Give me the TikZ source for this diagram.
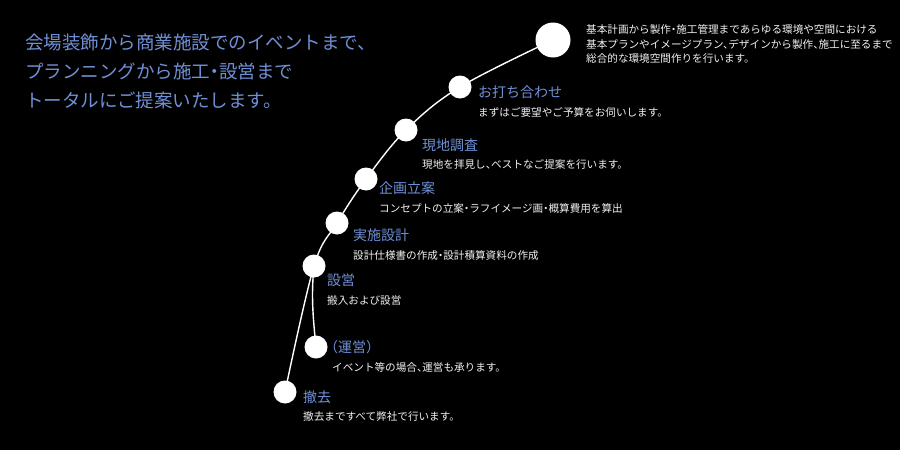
\documentclass[tikz,border=0pt]{standalone}
\usepackage{fontspec}
\setmainfont{Noto Sans CJK JP}[RawFeature={+halt}]
\usepackage{xcolor}
\usepackage{tikz}
\usetikzlibrary{backgrounds}
\definecolor{Paper}{HTML}{000000}
\definecolor{Lead}{HTML}{7090D6}
\definecolor{Note}{HTML}{F2F2F2}

\begin{document}
\begin{tikzpicture}[
  x=1pt, y=-1pt,
  dot/.style={circle, fill=white, inner sep=0pt, minimum size=23pt},
  head/.style={anchor=west, inner sep=0pt, text=Lead, font=\fontsize{14}{16}\selectfont},
  desc/.style={anchor=west, inner sep=0pt, text=Note, align=left, font=\fontsize{10.6}{14.2}\selectfont},
  route/.style={draw=white, line width=1.4pt}
]
\useasboundingbox (0,0) rectangle (900,450);

\node[dot, minimum size=35pt] (start) at (553,40) {};
\node[dot] (meet) at (460,87) {};
\node[dot] (survey) at (406,130) {};
\node[dot] (plan) at (366,179) {};
\node[dot] (design) at (337,223) {};
\node[dot] (setup) at (314,266) {};
\node[dot] (operate) at (316,347) {};
\node[dot] (remove) at (285,392) {};

\begin{scope}[on background layer]
\fill[Paper] (0,0) rectangle (900,450);
\draw[route] plot[smooth, tension=0.6] coordinates {(start.center) (meet.center) (survey.center) (plan.center) (design.center) (setup.center) (remove.center)};
\draw[route] (setup.center) .. controls +(-3,30) and +(-3,-30) .. (operate.center);
\end{scope}

\node[anchor=west, inner sep=0pt, text=Lead, align=left, font=\fontsize{18.5}{29}\selectfont] (lead) at (25,71) {会場装飾から商業施設でのイベントまで、\\プランニングから施工・設営まで\\トータルにご提案いたします。};

\node[desc, font=\fontsize{10.6}{14.2}\selectfont] (intro) at (586,44) {基本計画から製作・施工管理まであらゆる環境や空間における\\基本プランやイメージプラン、デザインから製作、施工に至るまで\\総合的な環境空間作りを行います。};

\node[head] (meet-h) at (478,92) {お打ち合わせ};
\node[desc] (meet-d) at (478,112) {まずはご要望やご予算をお伺いします。};
\node[head] (survey-h) at (422,145) {現地調査};
\node[desc] (survey-d) at (422,164) {現地を拝見し、ベストなご提案を行います。};
\node[head] (plan-h) at (379,188) {企画立案};
\node[desc] (plan-d) at (379,208) {コンセプトの立案・ラフイメージ画・概算費用を算出};
\node[head] (design-h) at (353,235) {実施設計};
\node[desc] (design-d) at (353,255) {設計仕様書の作成・設計積算資料の作成};
\node[head] (setup-h) at (327,280) {設営};
\node[desc] (setup-d) at (327,300) {搬入および設営};
\node[head] (operate-h) at (331,347) {（運営）};
\node[desc] (operate-d) at (332,367) {イベント等の場合、運営も承ります。};
\node[head] (remove-h) at (303,397) {撤去};
\node[desc] (remove-d) at (303,417) {撤去まですべて弊社で行います。};
\end{tikzpicture}
\end{document}
